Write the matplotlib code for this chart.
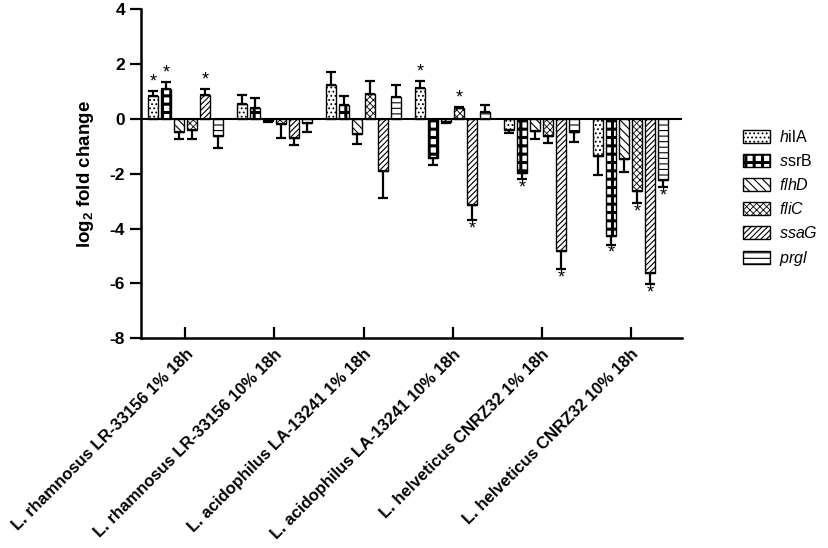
import numpy as np
import matplotlib
matplotlib.use("Agg")
import matplotlib.pyplot as plt

plt.rcParams["font.family"] = ["Liberation Sans", "DejaVu Sans"]
plt.rcParams["mathtext.fontset"] = "custom"
plt.rcParams["mathtext.rm"] = "Liberation Sans"
plt.rcParams["mathtext.it"] = "Liberation Sans:italic"
plt.rcParams["mathtext.bf"] = "Liberation Sans:bold"
plt.rcParams["axes.unicode_minus"] = False
plt.rcParams["hatch.linewidth"] = 0.8

groups = ["L. rhamnosus LR-33156 1% 18h", "L. rhamnosus LR-33156 10% 18h",
          "L. acidophilus LA-13241 1% 18h", "L. acidophilus LA-13241 10% 18h",
          "L. helveticus CNRZ32 1% 18h", "L. helveticus CNRZ32 10% 18h"]
genes = [r"$\it{h}$ilA", r"$\it{s}$srB", r"$\it{flhD}$", r"$\it{fliC}$",
         r"$\it{ssaG}$", r"$\it{prgl}$"]
hatches = ["....", "++", "\\\\\\\\", "xxxxx", "//////", "---"]
hatch_widths = [0.8, 2.2, 0.8, 0.6, 0.8, 0.8]

# rows = genes, cols = groups
values = np.array([
    [0.85, 0.55, 1.25, 1.12, -0.39, -1.36],    # hilA
    [1.09, 0.40, 0.51, -1.44, -1.97, -4.26],   # ssrB
    [-0.46, -0.07, -0.55, -0.10, -0.45, -1.46],  # flhD
    [-0.40, -0.18, 0.91, 0.39, -0.63, -2.64],  # fliC
    [0.86, -0.71, -1.90, -3.13, -4.83, -5.62],  # ssaG
    [-0.61, -0.16, 0.79, 0.24, -0.46, -2.22],  # prgl
])
errors = np.array([
    [0.18, 0.34, 0.45, 0.28, 0.12, 0.68],
    [0.25, 0.35, 0.34, 0.23, 0.22, 0.33],
    [0.28, 0.03, 0.35, 0.05, 0.29, 0.46],
    [0.34, 0.53, 0.46, 0.04, 0.26, 0.43],
    [0.23, 0.24, 0.97, 0.55, 0.64, 0.40],
    [0.44, 0.33, 0.45, 0.25, 0.37, 0.28],
])
significant = np.array([
    [1, 0, 0, 1, 0, 0],
    [1, 0, 0, 0, 1, 1],
    [0, 0, 0, 0, 0, 0],
    [0, 0, 0, 1, 0, 1],
    [1, 0, 0, 1, 1, 1],
    [0, 0, 0, 0, 0, 1],
], dtype=bool)


def set_hw(patch, w):
    try:
        patch.set_hatch_linewidth(w)
    except AttributeError:
        pass


fig = plt.figure(figsize=(8.29, 5.48), dpi=100)
ax = fig.add_axes([0.170, 0.383, 0.653, 0.600])

x = np.arange(len(groups))
pitch, width = 0.146, 0.11
for i, (g, h) in enumerate(zip(genes, hatches)):
    xs = x + (i - 2.5) * pitch
    v, e = values[i], errors[i]
    yerr = [np.where(v < 0, e, 0), np.where(v >= 0, e, 0)]
    bars = ax.bar(xs, v, width, color="white", edgecolor="black", linewidth=1.0,
                  hatch=h, label=g, zorder=2)
    for b in bars:
        set_hw(b, hatch_widths[i])
    ax.errorbar(xs, v, yerr=yerr, fmt="none", ecolor="black", elinewidth=1.6,
                capsize=3.5, capthick=1.6, zorder=3)
    for xi, vi, ei, s in zip(xs, v, e, significant[i]):
        if s:
            sgn = 1 if vi >= 0 else -1
            ax.text(xi, vi + sgn * (ei + 0.32), "*", ha="center", va="center",
                    fontsize=13)

ax.axhline(0, color="black", linewidth=1.5, zorder=4)
ax.set_xlim(-0.5, 5.58)
ax.set_ylim(-8, 4)
ax.set_yticks(np.arange(-8, 5, 2))
ax.set_xticks(x)
ax.set_xticklabels(groups, rotation=45, ha="right", rotation_mode="anchor",
                   fontsize=12, fontweight="bold")
for t in ax.get_yticklabels():
    t.set_fontweight("bold")
ax.tick_params(axis="y", direction="out", length=8, width=1.6, labelsize=12.5)
ax.tick_params(axis="x", direction="in", length=8, width=1.6, pad=6)
for side in ("top", "right"):
    ax.spines[side].set_visible(False)
for side in ("left", "bottom"):
    ax.spines[side].set_linewidth(1.8)
ax.set_ylabel(r"$\mathbf{log_2}$ fold change", fontsize=13.5, fontweight="bold",
              labelpad=10)

leg = ax.legend(loc="upper left", bbox_to_anchor=(1.085, 0.68), frameon=False,
                fontsize=11.5, handlelength=1.7, handleheight=0.9,
                labelspacing=0.5, handletextpad=0.6)
for p, w in zip(leg.get_patches(), hatch_widths):
    set_hw(p, w)

fig.savefig("out.png", dpi=100)
